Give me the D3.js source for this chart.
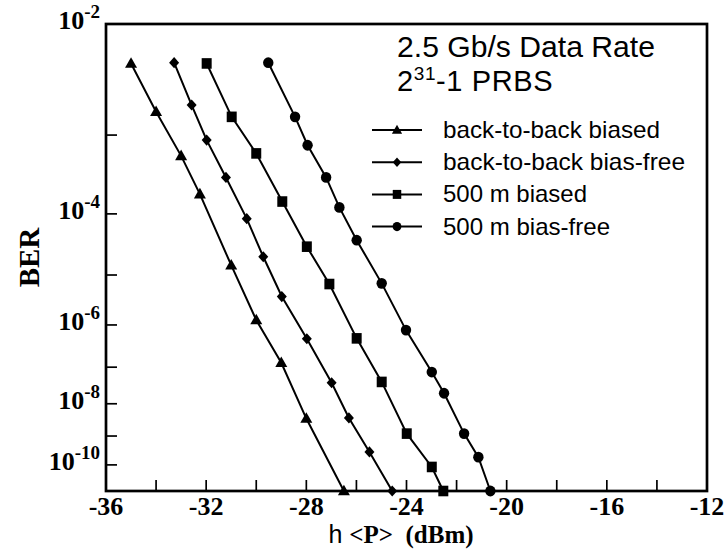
<!DOCTYPE html>
<html>
<head>
<meta charset="utf-8">
<script src="https://cdn.jsdelivr.net/npm/d3@7"></script>
<style>
  html, body { margin: 0; padding: 0; background: #fff; }
</style>
</head>
<body>
<svg id="chart" width="728" height="549"></svg>
<script>
// Received optical power (dBm) and measured bit error ratio, one pair of arrays per link setup
const b2bBiasedPower = [-35.0, -34.0, -33.0, -32.25, -31.0, -30.0, -29.0, -28.0, -26.5];
const b2bBiasedBER   = [4.9e-3, 1.76e-3, 5.8e-4, 1.9e-4, 1.5e-5, 1.28e-6, 1.29e-7, 3.6e-9, 1e-11];

const b2bFreePower = [-33.28, -32.58, -31.98, -31.21, -30.38, -29.72, -28.98, -27.98, -26.99, -26.3, -25.48, -24.57];
const b2bFreeBER   = [4.97e-3, 2.05e-3, 8.8e-4, 3.15e-4, 8.5e-5, 2.1e-5, 3.9e-6, 4.9e-7, 3.9e-8, 3.75e-9, 2.9e-10, 1e-11];

const m500BiasedPower = [-31.98, -30.98, -30.0, -28.96, -27.98, -27.08, -25.99, -24.99, -23.99, -22.99, -22.53];
const m500BiasedBER   = [4.9e-3, 1.56e-3, 6.2e-4, 1.5e-4, 3.1e-5, 6.8e-6, 5.0e-7, 4.1e-8, 1.2e-9, 8.4e-11, 1e-11];

const m500FreePower = [-29.52, -28.45, -27.95, -27.21, -26.68, -25.99, -24.99, -24.02, -22.99, -22.5, -21.7, -21.13, -20.65];
const m500FreeBER   = [4.97e-3, 1.56e-3, 7.7e-4, 3.15e-4, 1.24e-4, 3.95e-5, 7.0e-6, 7.7e-7, 7.5e-8, 2.0e-8, 1.2e-9, 1.9e-10, 1e-11];

const seriesNames = ["back-to-back biased", "back-to-back bias-free", "500 m biased", "500 m bias-free"];
const seriesShapes = ["triangle", "diamond", "square", "circle"];

const xMajorTicks = [-36, -32, -28, -24, -20, -16, -12];
const xMinorTicks = [-34, -30, -26, -22, -18, -14];
const yMajorExponents = [-2, -4, -6, -8, -10];
const yMinorExponents = [-3, -5, -7, -9];

const titleLine1 = "2.5 Gb/s Data Rate";
const xAxisLabel = "<P>  (dBm)";
const yAxisLabel = "BER";

// ---------------------------------------------------------------------------
const svg = d3.select("#chart");
const plot = { left: 106, right: 707, top: 24, bottom: 491 };

// BER is drawn on a log(-log) axis, the usual layout for error-rate curves
const loglog = ber => Math.log10(-Math.log10(ber));
const x = d3.scaleLinear().domain([-36, -12]).range([plot.left, plot.right]);
const yU = d3.scaleLinear().domain([loglog(1e-2), loglog(1e-11)]).range([plot.top, plot.bottom]);
const y = ber => yU(loglog(ber));

const serifBold = "'Liberation Serif', 'Times New Roman', serif";
const sans = "'Liberation Sans', Arial, Helvetica, sans-serif";

// Marker outlines, centred on the data point
const shapes = {
  triangle: s => `M0,${-6.3 * s}L${6 * s},${4.3 * s}L${-6 * s},${4.3 * s}Z`,
  diamond:  s => `M0,${-5.6 * s}L${5 * s},0L0,${5.6 * s}L${-5 * s},0Z`,
  square:   s => `M${-5 * s},${-5.3 * s}H${5 * s}V${5.3 * s}H${-5 * s}Z`,
  circle:   s => `M${5.2 * s},0A${5.2 * s},${5.4 * s} 0 1 1 ${-5.2 * s},0A${5.2 * s},${5.4 * s} 0 1 1 ${5.2 * s},0Z`
};

const series = [
  { power: b2bBiasedPower, ber: b2bBiasedBER },
  { power: b2bFreePower, ber: b2bFreeBER },
  { power: m500BiasedPower, ber: m500BiasedBER },
  { power: m500FreePower, ber: m500FreeBER }
].map((s, i) => ({
  name: seriesNames[i],
  shape: seriesShapes[i],
  points: s.power.map((p, j) => ({ p, b: s.ber[j] }))
}));

// ---- curves --------------------------------------------------------------
const line = d3.line().x(d => x(d.p)).y(d => y(d.b));
const curves = svg.append("g");
series.forEach(s => {
  curves.append("path")
    .attr("d", line(s.points))
    .attr("fill", "none")
    .attr("stroke", "#000")
    .attr("stroke-width", 2);
  curves.selectAll(null)
    .data(s.points)
    .join("path")
    .attr("transform", d => `translate(${x(d.p)},${y(d.b)})`)
    .attr("d", shapes[s.shape](1))
    .attr("fill", "#000");
});

// ---- frame and ticks -----------------------------------------------------
const axes = svg.append("g").attr("stroke", "#000").attr("fill", "none");
axes.append("rect")
  .attr("x", plot.left).attr("y", plot.top)
  .attr("width", plot.right - plot.left).attr("height", plot.bottom - plot.top)
  .attr("stroke-width", 2.7);

const xTickAll = xMajorTicks.concat(xMinorTicks).filter(v => v > -36 && v < -12);
axes.selectAll(null).data(xTickAll).join("line")
  .attr("x1", d => x(d)).attr("x2", d => x(d))
  .attr("y1", plot.bottom).attr("y2", plot.bottom - 11)
  .attr("stroke-width", 1.7);

const yTickAll = yMajorExponents.concat(yMinorExponents).filter(e => e < -2);
axes.selectAll(null).data(yTickAll).join("line")
  .attr("x1", plot.left).attr("x2", plot.left + 11)
  .attr("y1", e => y(Math.pow(10, e))).attr("y2", e => y(Math.pow(10, e)))
  .attr("stroke-width", 1.7);

// ---- tick labels ---------------------------------------------------------
svg.append("g").selectAll(null).data(xMajorTicks).join("text")
  .attr("x", d => x(d)).attr("y", plot.bottom + 24)
  .attr("text-anchor", "middle")
  .attr("font-family", serifBold).attr("font-weight", "bold").attr("font-size", 26)
  .text(d => d);

const yLabels = svg.append("g").selectAll(null).data(yMajorExponents).join("text")
  .attr("x", 100).attr("y", e => y(Math.pow(10, e)) + 5)
  .attr("text-anchor", "end")
  .attr("font-family", serifBold).attr("font-weight", "bold").attr("font-size", 26);
yLabels.append("tspan").text("10");
yLabels.append("tspan").attr("dy", -11).attr("font-size", 19).text(e => e);

// ---- axis titles ---------------------------------------------------------
svg.append("text")
  .attr("transform", `translate(39,${(plot.top + plot.bottom) / 2}) rotate(-90)`)
  .attr("text-anchor", "middle")
  .attr("font-family", serifBold).attr("font-weight", "bold").attr("font-size", 29)
  .text(yAxisLabel);

const xt = svg.append("text")
  .attr("x", 401).attr("y", 543)
  .attr("text-anchor", "middle")
  .style("white-space", "pre")
  .attr("font-family", serifBold).attr("font-weight", "bold").attr("font-size", 25);
xt.append("tspan").attr("font-family", sans).attr("font-weight", "normal").text("h ");
xt.append("tspan").text(xAxisLabel);

// ---- annotation and legend -----------------------------------------------
const note = svg.append("g").attr("font-family", sans).attr("fill", "#000");
note.append("text").attr("x", 397).attr("y", 57).attr("font-size", 29)
  .attr("textLength", 258).attr("lengthAdjust", "spacingAndGlyphs")
  .text(titleLine1);
const t2 = note.append("text").attr("x", 397).attr("y", 91).attr("font-size", 29)
  .attr("letter-spacing", 0.6);
t2.append("tspan").text("2");
t2.append("tspan").attr("dy", -11).attr("font-size", 19).text("31");
t2.append("tspan").attr("dy", 11).text("-1 PRBS");

const legendTop = 130, legendStep = 32.2;
const legendWidths = [217, 242, 144, 167];
const legend = svg.append("g");
series.forEach((s, i) => {
  const ly = legendTop + i * legendStep;
  legend.append("line")
    .attr("x1", 372).attr("x2", 422).attr("y1", ly).attr("y2", ly)
    .attr("stroke", "#000").attr("stroke-width", 2);
  legend.append("path")
    .attr("transform", `translate(397,${ly})`)
    .attr("d", shapes[s.shape](0.85))
    .attr("fill", "#000");
  legend.append("text")
    .attr("x", 443).attr("y", ly + 8)
    .attr("font-family", sans).attr("font-size", 24)
    .attr("textLength", legendWidths[i]).attr("lengthAdjust", "spacingAndGlyphs")
    .text(s.name);
});
</script>
</body>
</html>
